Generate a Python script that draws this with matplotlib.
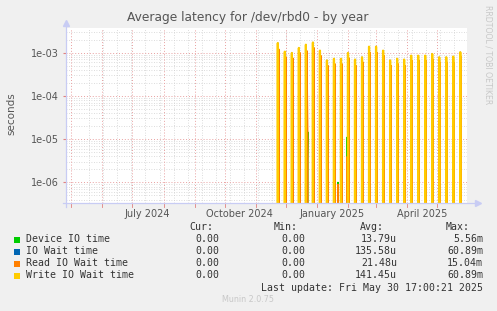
import datetime as dt
import numpy as np
import pandas as pd
import matplotlib
matplotlib.use('Agg')
import matplotlib.pyplot as plt
import matplotlib.dates as mdates

# weekly write spikes (seconds), first one on 2024-11-23
spike_start = '2024-11-23'
write_peaks = [1.66e-3, 1.05e-3, 0.98e-3, 1.28e-3, 1.52e-3, 1.71e-3, 1.11e-3, 0.66e-3, 0.72e-3,
               0.72e-3, 0.98e-3, 0.69e-3, 0.78e-3, 1.37e-3, 1.37e-3, 1.11e-3, 0.66e-3, 0.72e-3,
               0.69e-3, 0.85e-3, 0.85e-3, 0.85e-3, 0.93e-3, 0.78e-3, 0.78e-3, 0.81e-3, 1.02e-3]
read_peaks = [1.2e-3, 0.8e-3, 0.75e-3, 1.0e-3, 1.1e-3, 1.3e-3, 0.85e-3, 0.5e-3, 0.55e-3,
              0.55e-3, 0.75e-3, 0.5e-3, 0.6e-3, 1.0e-3, 1.0e-3, 0.85e-3, 0.5e-3, 0.55e-3,
              0.5e-3, 0.65e-3, 0.65e-3, 0.65e-3, 0.7e-3, 0.6e-3, 0.6e-3, 0.6e-3, 0.8e-3]
device_small = [1.5e-6, 1.3e-6, 1.2e-6, 1.4e-6, 1.3e-6, 1.2e-6, 1.3e-6, 1.1e-6, 1.2e-6,
                1.4e-6, 2.0e-6, 1.3e-6, 1.2e-6, 1.3e-6, 1.2e-6, 1.4e-6, 1.2e-6, 1.3e-6,
                1.2e-6, 1.3e-6, 1.4e-6, 1.3e-6, 1.2e-6, 1.3e-6, 1.6e-6, 1.3e-6, 1.2e-6]
# other single events
device_events = {'2024-12-23': 1.45e-5, '2025-01-22': 1.0e-6, '2025-01-31': 1.1e-5}
read_events = {'2024-12-23': 7.8e-6, '2025-01-22': 9.0e-7, '2025-01-31': 3.9e-6}

legend_names = ['Device IO time', 'IO Wait time', 'Read IO Wait time', 'Write IO Wait time']
legend_cur = ['0.00', '0.00', '0.00', '0.00']
legend_min = ['0.00', '0.00', '0.00', '0.00']
legend_avg = ['13.79u', '135.58u', '21.48u', '141.45u']
legend_max = ['5.56m', '60.89m', '15.04m', '60.89m']
colors = ['#00CC00', '#0066B3', '#FF8000', '#FFCC00']

# build daily series
days = pd.date_range('2024-11-21', '2025-05-30', freq='D')
spike_days = pd.date_range(spike_start, periods=len(write_peaks), freq='7D')
write = pd.Series(0.0, index=days)
read = pd.Series(0.0, index=days)
device = pd.Series(0.0, index=days)
write[spike_days] = write_peaks
iowait = write.copy()
read[spike_days + pd.Timedelta(days=1)] = read_peaks
device[spike_days + pd.Timedelta(days=1)] = device_small
for d, v in device_events.items():
    device[pd.Timestamp(d)] = v
for d, v in read_events.items():
    read[pd.Timestamp(d)] = v

W, H = 497, 311
fig = plt.figure(figsize=(W / 100, H / 100), dpi=100, facecolor='#F0F0F0')
ax = fig.add_axes([66 / W, 1 - 203 / H, 401 / W, 175 / H])
ax.set_facecolor('white')
ax.set_yscale('log', nonpositive='clip')

x0 = dt.datetime(2024, 4, 25, 17)
x1 = dt.datetime(2025, 5, 30, 17)
ax.set_xlim(x0, x1)
ax.set_ylim(3.34e-7, 3.7e-3)

# grid
dots = (0, (1, 2))
for d in pd.date_range('2024-05-19', '2025-05-30', freq='14D'):
    ax.axvline(d, color='#d0d0d0', lw=0.6, ls=dots, zorder=0)
months = pd.date_range('2024-05-01', '2025-05-01', freq='MS')
for d in months:
    ax.axvline(d, color='#e8a0a0', lw=0.7, ls=dots, zorder=0.5)
for e in range(-7, -2):
    for m in range(2, 10):
        ax.axhline(m * 10.0 ** e, color='#d0d0d0', lw=0.6, ls=dots, zorder=0)
    ax.axhline(10.0 ** e, color='#e8a0a0', lw=0.7, ls=dots, zorder=0.5)

# data
ax.plot(device.index, device.values, color=colors[0], lw=1, zorder=2)
ax.plot(iowait.index, iowait.values, color=colors[1], lw=1, zorder=3)
ax.plot(read.index, read.values, color=colors[2], lw=1, zorder=4)
ax.plot(write.index, write.values, color=colors[3], lw=1.6, zorder=5)

# axes
for s in ax.spines.values():
    s.set_visible(False)
axcol = '#c8ccf4'
ax.plot([-0.008, 1.028], [0, 0], transform=ax.transAxes, color=axcol, lw=0.9, clip_on=False, zorder=6)
ax.plot([0, 0], [-0.02, 1.03], transform=ax.transAxes, color=axcol, lw=0.9, clip_on=False, zorder=6)
ax.plot([1.028], [0], marker='>', ms=4, color=axcol, transform=ax.transAxes, clip_on=False)
ax.plot([0], [1.03], marker='^', ms=4, color=axcol, transform=ax.transAxes, clip_on=False)
for d in months:
    ax.plot([d, d], [0, -0.02], transform=ax.get_xaxis_transform(), color='#e08080', lw=0.6, clip_on=False)

ax.set_yticks([1e-6, 1e-5, 1e-4, 1e-3])
ax.set_yticklabels(['1e-06', '1e-05', '1e-04', '1e-03'])
ax.yaxis.set_minor_locator(matplotlib.ticker.NullLocator())
ax.tick_params(axis='y', length=2, color='#e08080', labelsize=7, labelcolor='#555555', pad=3)

label_pos = [dt.datetime(2024, 7, 16), dt.datetime(2024, 10, 16), dt.datetime(2025, 1, 16), dt.datetime(2025, 4, 16)]
ax.set_xticks(label_pos)
ax.set_xticklabels(['July 2024', 'October 2024', 'January 2025', 'April 2025'])
ax.xaxis.set_minor_locator(matplotlib.ticker.NullLocator())
ax.tick_params(axis='x', length=0, labelsize=7, labelcolor='#555555', pad=4)

def px(x, y):
    return x / W, 1 - y / H

fig.text(*px(248, 18), 'Average latency for /dev/rbd0 - by year', ha='center', va='center',
         fontsize=8.8, color='#555555')
fig.text(*px(11, 114), 'seconds', rotation=90, ha='center', va='center', fontsize=7.5, color='#555555')
fig.text(*px(488, 5), 'RRDTOOL / TOBI OETIKER', rotation=270, ha='center', va='top',
         fontsize=5.6, color='#c8c8c8')

mono = dict(family='DejaVu Sans Mono', fontsize=7.1, color='#333333', va='center')
fig.text(*px(213, 227), 'Cur:', ha='right', **mono)
fig.text(*px(298, 227), 'Min:', ha='right', **mono)
fig.text(*px(384, 227), 'Avg:', ha='right', **mono)
fig.text(*px(470, 227), 'Max:', ha='right', **mono)
for i, name in enumerate(legend_names):
    y = 239.5 + 12 * i
    fig.patches.append(plt.Rectangle(px(14, y + 3), 6 / W, 6 / H, transform=fig.transFigure,
                                     facecolor=colors[i], edgecolor='none'))
    fig.text(*px(26, y), name, ha='left', **mono)
    fig.text(*px(219, y), legend_cur[i], ha='right', **mono)
    fig.text(*px(305, y), legend_min[i], ha='right', **mono)
    fig.text(*px(397, y), legend_avg[i], ha='right', **mono)
    fig.text(*px(483, y), legend_max[i], ha='right', **mono)
fig.text(*px(483, 288), 'Last update: Fri May 30 17:00:21 2025', ha='right', **mono)
fig.text(*px(248, 300), 'Munin 2.0.75', ha='center', va='center', fontsize=5.8, color='#c8c8c8')

fig.savefig('out.png', dpi=100, facecolor=fig.get_facecolor())
